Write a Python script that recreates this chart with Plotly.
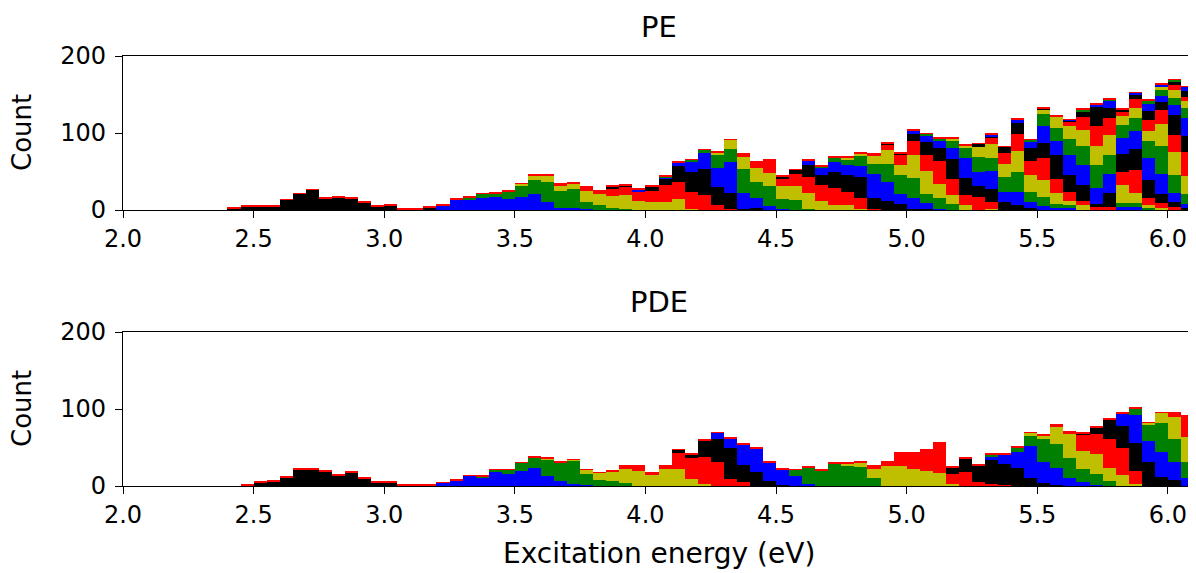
import numpy as np
import plotly.graph_objects as go

# ---------------- data (histogram counts, 0.05 eV bins) ----------------
BIN_WIDTH = 0.05
E_MIN, E_MAX = 2.0, 6.1
Y_MAX = 200
X_TICKS = [2.0, 2.5, 3.0, 3.5, 4.0, 4.5, 5.0, 5.5, 6.0]
Y_TICKS = [0, 100, 200]
TOP_LINE = 1  # thin red line drawn on top of every filled bin

# each state: (first bin start energy, counts per bin)
pe_s01 = (2.40, [2, 5, 5, 5, 13, 21, 26, 15, 16, 15, 10, 5, 6, 1, 1, 3])
pe_s02 = (3.20, [6, 14, 13, 15, 17, 14, 17, 21, 11, 3, 2, 1])
pe_s03 = (3.30, [3, 6, 4, 10, 14, 18, 26, 22, 25, 10, 6, 2, 1])
pe_s04 = (3.40, [1, 0, 3, 6, 8, 7, 8, 14, 16, 16, 18, 12, 11, 11, 14, 1])
pe_s05 = (3.65, [1, 0, 4, 2, 9, 11, 12, 14, 22, 22, 23, 19, 6, 1])
pe_s06 = (3.85, [4, 2, 0, 6, 8, 21, 26, 34, 24, 21, 1, 2])
pe_s07 = (3.95, [3, 0, 1, 5, 13, 21, 24, 40, 21, 13, 5, 1])
pe_s08 = (4.05, [2, 0, 2, 4, 18, 17, 31, 21, 26, 13, 13, 1])
pe_s09 = (4.25, [3, 12, 16, 18, 17, 17, 18, 21, 12, 6, 7, 1])
pe_s10 = (4.35, [3, 8, 16, 9, 16, 21, 21, 22, 17, 15, 1])
pe_s11 = (4.50, [4, 5, 16, 13, 22, 22, 27, 15, 12, 8, 1, 1])
pe_s12 = (4.60, [5, 8, 12, 13, 14, 31, 24, 13, 15, 8, 1])
pe_s13 = (4.65, [3, 6, 7, 13, 13, 24, 24, 26, 12, 15, 8])
pe_s14 = (4.75, [2, 4, 10, 18, 14, 30, 30, 18, 11, 6, 0, 1])
pe_s15 = (4.85, [3, 6, 12, 18, 21, 29, 21, 13, 17, 9])
pe_s16 = (4.90, [3, 3, 9, 16, 18, 26, 23, 14, 17, 11, 7, 3])
pe_s17 = (5.00, [4, 9, 9, 14, 25, 18, 24, 12, 17, 8, 5, 3, 2])
pe_s18 = (5.05, [2, 3, 9, 13, 20, 17, 20, 26, 13, 12, 5, 5])
pe_s19 = (5.15, [4, 4, 13, 18, 17, 26, 21, 22, 14, 5, 6])
pe_s20 = (5.30, [8, 14, 23, 18, 29, 18, 12, 6, 4, 4])
pe_s21 = (5.25, [4, 1, 8, 14, 18, 19, 32, 21, 21, 4, 18])
pe_s22 = (5.30, [3, 0, 4, 8, 22, 18, 26, 25, 21, 25, 4, 4])
pe_s23 = (5.45, [2, 16, 16, 21, 25, 29, 25, 5, 5, 2])
pe_s24 = (5.40, [1, 0, 5, 15, 17, 21, 25, 25, 23, 13, 4, 3])
pe_s25 = (5.50, [1, 1, 6, 17, 26, 22, 18, 30, 10, 6, 4])
pe_s26 = (5.50, [1, 0, 1, 6, 25, 14, 23, 27, 23, 12, 6, 2])
pe_s27 = (5.60, [1, 0, 3, 8, 21, 23, 29, 26, 12, 6])
pe_s28 = (5.65, [4, 0, 3, 16, 17, 21, 36, 23, 13])
pe_s29 = (5.80, [12, 13, 14, 29, 30, 23])
pe_s30 = (5.80, [5, 12, 14, 18, 23, 31])
pe_s31 = (5.80, [4, 6, 12, 10, 26, 21])
pe_s32 = (5.85, [2, 9, 8, 13, 23])
pe_s33 = (5.90, [4, 8, 9, 14])
pe_s34 = (5.95, [5, 10, 8])
pe_s35 = (6.00, [6, 6])
pe_s36 = (6.00, [4, 8])
pe_s37 = (5.95, [2, 0, 5])
pe_s38 = (6.00, [3])

pde_s01 = (2.45, [1, 5, 6, 11, 22, 22, 19, 14, 18, 10, 5, 5, 1, 1, 1])
pde_s02 = (3.20, [4, 7, 13, 11, 18, 15, 19, 24, 13, 6, 3, 1])
pde_s03 = (3.35, [1, 3, 6, 11, 13, 22, 25, 30, 14, 8, 7, 4])
pde_s04 = (3.60, [1, 0, 1, 6, 9, 12, 19, 19, 14, 22, 22, 9, 3])
pde_s05 = (3.90, [2, 6, 3, 4, 21, 27, 35, 31, 9, 5])
pde_s06 = (4.10, [4, 5, 21, 30, 41, 22, 18, 6, 1])
pde_s07 = (4.25, [8, 12, 27, 31, 25, 21, 13, 3])
pde_s08 = (4.55, [8, 21, 20, 29, 26, 25, 10])
pde_s09 = (4.75, [3, 6, 13, 26, 26, 22, 19, 17, 3])
pde_s10 = (4.85, [2, 5, 16, 20, 28, 38, 13, 18, 5, 3, 1])
pde_s11 = (5.15, [8, 18, 22, 31, 28, 23, 10, 4, 1])
pde_s12 = (5.30, [4, 12, 21, 42, 27, 23, 10, 5, 1])
pde_s13 = (5.30, [3, 0, 6, 13, 30, 30, 27, 17, 14, 6])
pde_s14 = (5.45, [4, 5, 22, 30, 23, 27, 17, 14, 3])
pde_s15 = (5.55, [3, 3, 22, 26, 38, 35, 17])
pde_s16 = (5.65, [1, 8, 26, 29, 36, 31, 12, 8])
pde_s17 = (5.80, [16, 36, 27, 32, 23, 10])
pde_s18 = (5.85, [9, 21, 38, 30, 21])
pde_s19 = (5.90, [3, 13, 29, 32])
pde_s20 = (6.00, [4, 27])

PE_STATES = [pe_s01, pe_s02, pe_s03, pe_s04, pe_s05, pe_s06, pe_s07, pe_s08,
             pe_s09, pe_s10, pe_s11, pe_s12, pe_s13, pe_s14, pe_s15, pe_s16,
             pe_s17, pe_s18, pe_s19, pe_s20, pe_s21, pe_s22, pe_s23, pe_s24,
             pe_s25, pe_s26, pe_s27, pe_s28, pe_s29, pe_s30, pe_s31, pe_s32,
             pe_s33, pe_s34, pe_s35, pe_s36, pe_s37, pe_s38]
PDE_STATES = [pde_s01, pde_s02, pde_s03, pde_s04, pde_s05, pde_s06, pde_s07,
              pde_s08, pde_s09, pde_s10, pde_s11, pde_s12, pde_s13, pde_s14,
              pde_s15, pde_s16, pde_s17, pde_s18, pde_s19, pde_s20]

# matplotlib-like colour cycle k, b, g, y, r
STATE_COLORS = ['#000000', '#0000ff', '#008000', '#bfbf00', '#ff0000']
TOP_COLOR = '#ff0000'

# ---------------- figure ----------------
# the page body has an 8 px margin, so the figure is 8 px smaller and
# every reference pixel position is shifted by OFF
OFF = 8
W, H = 1196 - OFF, 573 - OFF
ML = 123 - OFF            # left spine at x=123 in the page
MT = 56 - OFF             # top spine at y=56
MR = 1196 - 1194          # right spine at x=1194
MB = 573 - 486            # bottom spine (lower panel) at y=486
plot_h = H - MT - MB
plot_w = W - ML - MR


def py(pix):
    return (H - MB - (pix - OFF)) / plot_h


def px(pix):
    return ((pix - OFF) - ML) / plot_w


top_dom = [py(210), 1.0]
bot_dom = [0.0, py(332)]

n_bins = int(round((E_MAX - E_MIN) / BIN_WIDTH))
centers = E_MIN + BIN_WIDTH * (np.arange(n_bins) + 0.5)


def to_series(state):
    start, counts = state
    arr = np.zeros(n_bins)
    i0 = int(round((start - E_MIN) / BIN_WIDTH))
    arr[i0:i0 + len(counts)] = counts
    return arr


fig = go.Figure()


def add_panel(states, xa, ya):
    total = np.zeros(n_bins)
    for k, st in enumerate(states):
        y = to_series(st)
        total += y
        fig.add_trace(go.Bar(
            x=centers, y=y, width=BIN_WIDTH, xaxis=xa, yaxis=ya,
            marker=dict(color=STATE_COLORS[k % 5], line=dict(width=0)),
            showlegend=False, hoverinfo='skip'))
    top = np.where(total > 0, TOP_LINE, 0)
    fig.add_trace(go.Bar(
        x=centers, y=top, width=BIN_WIDTH, xaxis=xa, yaxis=ya,
        marker=dict(color=TOP_COLOR, line=dict(width=0)),
        showlegend=False, hoverinfo='skip'))


add_panel(PE_STATES, 'x', 'y')
add_panel(PDE_STATES, 'x2', 'y2')

FONT = 'DejaVu Sans'
TICK_SIZE = 24
axis_common = dict(showline=True, linecolor='black', linewidth=1.3, mirror=True,
                   ticks='outside', ticklen=7, tickwidth=1.3, tickcolor='black',
                   showgrid=False, zeroline=False, automargin=False,
                   tickfont=dict(family=FONT, size=TICK_SIZE, color='black'))

fig.update_layout(
    width=W, height=H, margin=dict(l=ML, r=MR, t=MT, b=MB, autoexpand=False),
    paper_bgcolor='white', plot_bgcolor='white',
    barmode='stack', bargap=0, bargroupgap=0,
    font=dict(family=FONT, color='black'),
    xaxis=dict(domain=[0, 1], anchor='y', range=[E_MIN, E_MAX],
               tickvals=X_TICKS, ticktext=[f'{v:.1f}' for v in X_TICKS], **axis_common),
    yaxis=dict(domain=top_dom, anchor='x', range=[0, Y_MAX], tickvals=Y_TICKS,
               ticklabelstandoff=4, **axis_common),
    xaxis2=dict(domain=[0, 1], anchor='y2', range=[E_MIN, E_MAX],
                tickvals=X_TICKS, ticktext=[f'{v:.1f}' for v in X_TICKS], **axis_common),
    yaxis2=dict(domain=bot_dom, anchor='x2', range=[0, Y_MAX], tickvals=Y_TICKS,
                ticklabelstandoff=4, **axis_common),
)

ann = []
ann.append(dict(text='PE', x=0.5, y=py(27), xref='paper', yref='paper',
                xanchor='center', yanchor='middle', showarrow=False,
                font=dict(family=FONT, size=29, color='black')))
ann.append(dict(text='PDE', x=0.5, y=py(302), xref='paper', yref='paper',
                xanchor='center', yanchor='middle', showarrow=False,
                font=dict(family=FONT, size=29, color='black')))
for cy in (133, 409):
    ann.append(dict(text='Count', x=px(22), y=py(cy),
                    xref='paper', yref='paper', xanchor='center', yanchor='middle',
                    textangle=-90, showarrow=False,
                    font=dict(family=FONT, size=26, color='black')))
ann.append(dict(text='Excitation energy (eV)', x=0.5, y=py(553),
                xref='paper', yref='paper', xanchor='center', yanchor='middle',
                showarrow=False, font=dict(family=FONT, size=28, color='black')))
fig.update_layout(annotations=ann)

fig.write_html('out.html')
